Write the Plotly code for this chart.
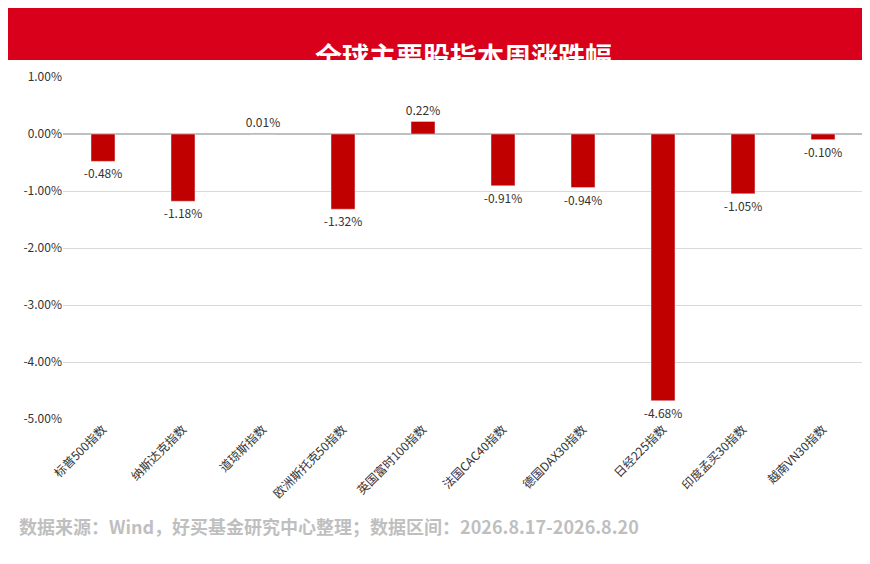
import plotly.graph_objects as go

categories = ["标普500指数", "纳斯达克指数", "道琼斯指数", "欧洲斯托克50指数", "英国富时100指数",
              "法国CAC40指数", "德国DAX30指数", "日经225指数", "印度孟买30指数", "越南VN30指数"]
changes = [-0.48, -1.18, 0.01, -1.32, 0.22, -0.91, -0.94, -4.68, -1.05, -0.10]
tick_vals = [1, 0, -1, -2, -3, -4, -5]
tick_text = ["1.00%", "0.00%", "-1.00%", "-2.00%", "-3.00%", "-4.00%", "-5.00%"]

fig = go.Figure()

fig.add_trace(go.Bar(
    x=categories,
    y=changes,
    width=0.3,
    marker=dict(color="#C00000"),
    text=[f"{v:.2f}%" for v in changes],
    textposition="outside",
    constraintext="none",
    textfont=dict(size=12, color="#333333"),
    cliponaxis=False,
))

# red title banner
fig.add_shape(type="rect", xref="paper", yref="paper", x0=-0.1, x1=1.1,
              y0=1 + 17 / 342, y1=1 + 75 / 342, fillcolor="#D9001B", line_width=0)
fig.add_annotation(text="<b>全球主要股指本周涨跌幅</b>", xref="paper", yref="paper",
                   x=0.5, y=1 + 43 / 342, showarrow=False,
                   font=dict(size=27, color="white"))

fig.add_annotation(text="<b>数据来源：Wind，好买基金研究中心整理；数据区间：2026.8.17-2026.8.20</b>",
                   xref="paper", yref="paper", x=-0.058, y=-122 / 342, xanchor="left",
                   showarrow=False, font=dict(size=18, color="#BFBFBF"))

fig.update_layout(
    width=870, height=564,
    margin=dict(l=55, r=15, t=69, b=153, autoexpand=False),
    plot_bgcolor="white", paper_bgcolor="white",
    font=dict(family="Noto Sans CJK SC", size=12, color="#333333"),
    showlegend=False,
    bargap=0.7,
    xaxis=dict(tickangle=-45, tickfont=dict(size=12, color="#333333"), showline=False,
               automargin=False),
    yaxis=dict(range=[-5, 1], tickvals=tick_vals, ticktext=tick_text, automargin=False,
               gridcolor="#D9D9D9", zeroline=True, zerolinecolor="#BFBFBF",
               tickfont=dict(size=12, color="#333333")),
)

fig.write_html("out.html")
